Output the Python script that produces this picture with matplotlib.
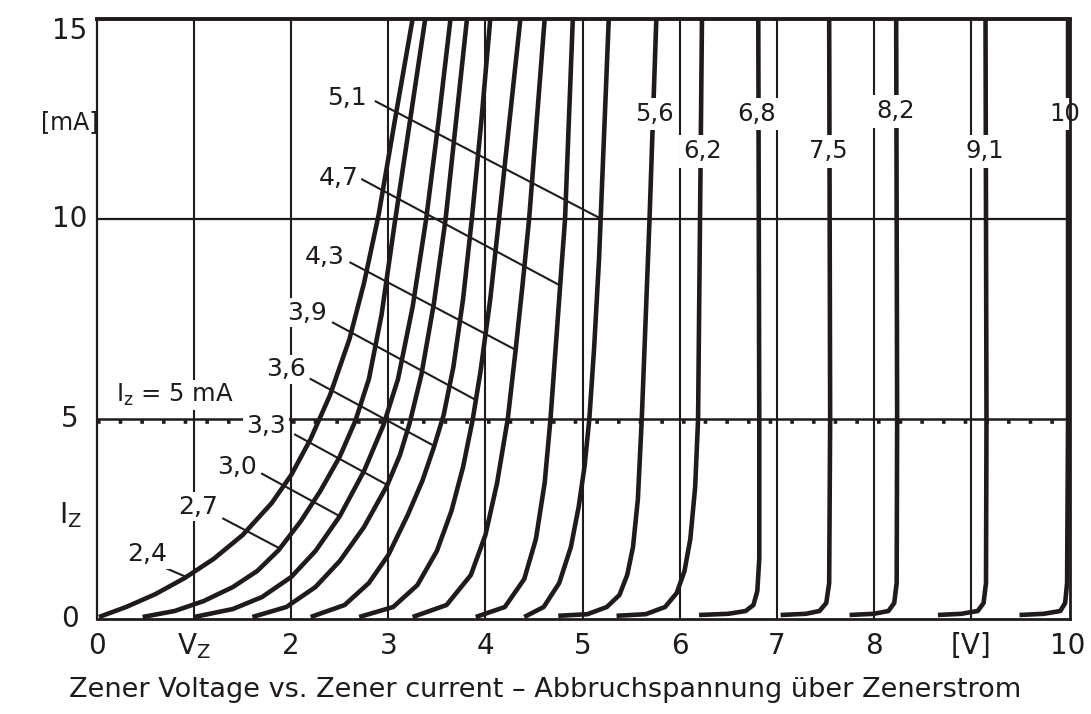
import matplotlib
matplotlib.use("Agg")
import matplotlib.pyplot as plt

# ---------------- data ----------------
curve_labels = ["2,4", "2,7", "3,0", "3,3", "3,6", "3,9", "4,3", "4,7", "5,1",
                "5,6", "6,2", "6,8", "7,5", "8,2", "9,1", "10"]

v_24 = [0.02, 0.3, 0.6, 0.9, 1.2, 1.5, 1.8, 2.0, 2.2, 2.4, 2.6, 2.75, 2.9, 3.07, 3.25]
i_24 = [0.05, 0.3, 0.62, 1.02, 1.5, 2.1, 2.9, 3.6, 4.5, 5.6, 7.0, 8.4, 10.1, 12.5, 15.0]

v_27 = [0.47, 0.8, 1.1, 1.4, 1.65, 1.87, 2.1, 2.3, 2.5, 2.66, 2.8, 2.93, 3.06, 3.22, 3.38]
i_27 = [0.05, 0.2, 0.45, 0.8, 1.2, 1.72, 2.45, 3.2, 4.06, 4.95, 6.0, 7.6, 9.8, 12.4, 15.0]

v_30 = [1.0, 1.4, 1.7, 2.0, 2.25, 2.5, 2.75, 2.95, 3.1, 3.25, 3.39, 3.52, 3.64]
i_30 = [0.05, 0.25, 0.55, 1.05, 1.7, 2.57, 3.7, 4.85, 6.0, 7.8, 10.0, 12.5, 15.0]

v_33 = [1.6, 1.95, 2.25, 2.5, 2.75, 2.99, 3.12, 3.22, 3.34, 3.47, 3.59, 3.70, 3.81]
i_33 = [0.05, 0.3, 0.8, 1.45, 2.3, 3.35, 4.1, 4.9, 6.1, 7.9, 10.0, 12.5, 15.0]

v_36 = [2.2, 2.55, 2.8, 3.0, 3.2, 3.35, 3.47, 3.57, 3.67, 3.77, 3.86, 3.96, 4.05]
i_36 = [0.05, 0.35, 0.9, 1.6, 2.6, 3.45, 4.3, 5.1, 6.3, 8.0, 10.0, 12.5, 15.0]

v_39 = [2.7, 3.05, 3.3, 3.5, 3.65, 3.77, 3.87, 3.95, 4.05, 4.14, 4.25, 4.36]
i_39 = [0.05, 0.3, 0.85, 1.7, 2.7, 3.8, 5.0, 6.2, 8.0, 10.0, 12.5, 15.0]

v_43 = [3.25, 3.6, 3.85, 4.0, 4.12, 4.23, 4.31, 4.38, 4.45, 4.53, 4.61]
i_43 = [0.05, 0.35, 1.1, 2.1, 3.4, 5.0, 6.7, 8.3, 10.0, 12.5, 15.0]

v_47 = [3.9, 4.2, 4.4, 4.52, 4.61, 4.67, 4.73, 4.77, 4.82, 4.86, 4.9]
i_47 = [0.05, 0.3, 1.0, 2.0, 3.4, 5.0, 7.0, 8.35, 10.0, 12.5, 15.0]

v_51 = [4.4, 4.6, 4.76, 4.88, 4.96, 5.02, 5.07, 5.12, 5.17, 5.22, 5.27]
i_51 = [0.05, 0.3, 0.9, 1.8, 2.8, 3.8, 5.0, 6.8, 9.0, 12.0, 15.0]

v_56 = [4.75, 5.05, 5.25, 5.38, 5.46, 5.52, 5.57, 5.61, 5.65, 5.69, 5.76]
i_56 = [0.08, 0.12, 0.3, 0.6, 1.1, 1.8, 3.0, 5.0, 7.5, 10.0, 15.0]

v_62 = [5.35, 5.65, 5.85, 5.97, 6.05, 6.11, 6.16, 6.19, 6.21, 6.23]
i_62 = [0.08, 0.12, 0.3, 0.65, 1.2, 2.0, 3.3, 5.0, 10.0, 15.0]

v_68 = [6.2, 6.5, 6.68, 6.76, 6.80, 6.82, 6.82, 6.81]
i_68 = [0.1, 0.13, 0.2, 0.35, 0.7, 1.5, 5.0, 15.0]

v_75 = [7.04, 7.3, 7.44, 7.51, 7.54, 7.55, 7.54]
i_75 = [0.1, 0.13, 0.2, 0.4, 0.9, 5.0, 15.0]

v_82 = [7.75, 8.0, 8.15, 8.21, 8.235, 8.24, 8.23]
i_82 = [0.1, 0.13, 0.2, 0.4, 0.9, 5.0, 15.0]

v_91 = [8.66, 8.9, 9.07, 9.13, 9.155, 9.16, 9.15]
i_91 = [0.1, 0.13, 0.2, 0.4, 0.9, 5.0, 15.0]

v_100 = [9.5, 9.75, 9.92, 9.97, 9.99, 10.0, 10.0]
i_100 = [0.1, 0.13, 0.2, 0.4, 0.9, 5.0, 15.0]

x_tick_values = [0, 1, 2, 3, 4, 5, 6, 7, 8, 9, 10]
x_tick_labels = ["0", r"V$_{\rm Z}$", "2", "3", "4", "5", "6", "7", "8", "[V]", "10"]
y_tick_values = [0, 5, 10, 15]
y_tick_labels = ["0", "5", "10", "15"]
iz_test = 5.0
x_title = "Zener Voltage vs. Zener current \u2013 Abbruchspannung \u00fcber Zenerstrom"

# ---------------- drawing ----------------
INK = "#1f1b1b"
W, H = 1091, 714
fig = plt.figure(figsize=(W / 100, H / 100), dpi=100)
L, R, T, B = 97, 1070, 19, 619
ax = fig.add_axes([L / W, 1 - B / H, (R - L) / W, (B - T) / H])
ax.set_xlim(0, 10.02)
ax.set_ylim(0, 15)

for side, lw in (("left", 1.6), ("bottom", 2.0), ("top", 2.8), ("right", 2.0)):
    ax.spines[side].set_linewidth(lw)
    ax.spines[side].set_color(INK)
    ax.spines[side].set_zorder(6)

# grid
for v in x_tick_values[1:-1]:
    ax.axvline(v, color=INK, lw=1.5, zorder=1)
ax.axhline(10, color=INK, lw=1.6, zorder=1)
ax.axhline(iz_test, color=INK, lw=1.8, zorder=1)
ax.plot([0, 10.02], [iz_test - 0.075, iz_test - 0.075], color=INK, lw=2.6,
        dashes=(1, 5.0), dash_capstyle="butt", zorder=1)

curves = [(v_24, i_24), (v_27, i_27), (v_30, i_30), (v_33, i_33), (v_36, i_36),
          (v_39, i_39), (v_43, i_43), (v_47, i_47), (v_51, i_51), (v_56, i_56),
          (v_62, i_62), (v_68, i_68), (v_75, i_75), (v_82, i_82), (v_91, i_91),
          (v_100, i_100)]
for (vv, ii) in curves:
    ax.plot(vv, ii, color=INK, lw=3.3, solid_joinstyle="round",
            solid_capstyle="butt", zorder=3)

# labels with leader lines (left group)
left_layout = {
    "2,4": ((0.52, 1.63), (0.71, 1.27), (0.91, 1.06)),
    "2,7": ((1.04, 2.81), (1.30, 2.51), (1.87, 1.78)),
    "3,0": ((1.44, 3.81), (1.70, 3.63), (2.50, 2.57)),
    "3,3": ((1.74, 4.83), (2.04, 4.61), (2.99, 3.35)),
    "3,6": ((1.95, 6.24), (2.20, 6.00), (3.47, 4.33)),
    "3,9": ((2.16, 7.66), (2.43, 7.41), (3.89, 5.49)),
    "4,3": ((2.34, 9.06), (2.61, 8.91), (4.31, 6.73)),
    "4,7": ((2.49, 11.02), (2.73, 10.99), (4.76, 8.35)),
    "5,1": ((2.57, 13.03), (2.87, 12.94), (5.18, 10.02)),
}
bb = dict(facecolor="white", edgecolor="none", pad=2.0)
for lab in curve_labels[:9]:
    (tx, ty), (x1, y1), (x2, y2) = left_layout[lab]
    ax.plot([x1, x2], [y1, y2], color=INK, lw=1.5, zorder=4)
    ax.text(tx, ty, lab, ha="center", va="center", fontsize=18, color=INK,
            bbox=bb, zorder=5)

right_layout = {"5,6": (5.74, 12.63), "6,2": (6.24, 11.69), "6,8": (6.79, 12.63),
                "7,5": (7.53, 11.69), "8,2": (8.22, 12.69), "9,1": (9.14, 11.69),
                "10": (9.97, 12.63)}
for lab in curve_labels[9:]:
    tx, ty = right_layout[lab]
    ax.text(tx, ty, lab, ha="center", va="center", fontsize=17.5, color=INK,
            bbox=dict(facecolor="white", edgecolor="none", pad=3.0), zorder=5)

ax.text(0.80, 5.6, r"I$_{\rm z}$ = 5 mA", ha="center", va="center", fontsize=17.5,
        color=INK, bbox=dict(facecolor="white", edgecolor="none", pad=1.0), zorder=5)

# ticks
ax.set_xticks(x_tick_values)
ax.set_xticklabels(x_tick_labels, fontsize=20, color=INK)
ax.tick_params(axis="x", length=0, pad=9)
ax.set_yticks([])

ycx = 70 / W
for val, lab in zip(y_tick_values, y_tick_labels):
    yy = 1 - (B - (B - T) * val / 15) / H
    if val == 15:
        yy = 1 - 31 / H
    fig.text(ycx, yy, lab, ha="center", va="center", fontsize=20, color=INK)
fig.text(ycx, 1 - 122 / H, "[mA]", ha="center", va="center", fontsize=17, color=INK)
fig.text(ycx, 1 - 515 / H, r"I$_{\rm Z}$", ha="center", va="center", fontsize=20, color=INK)

fig.text(0.5, 1 - 690 / H, x_title, ha="center", va="center", fontsize=19.5, color=INK)

fig.savefig("out.png", dpi=100, facecolor="white")
